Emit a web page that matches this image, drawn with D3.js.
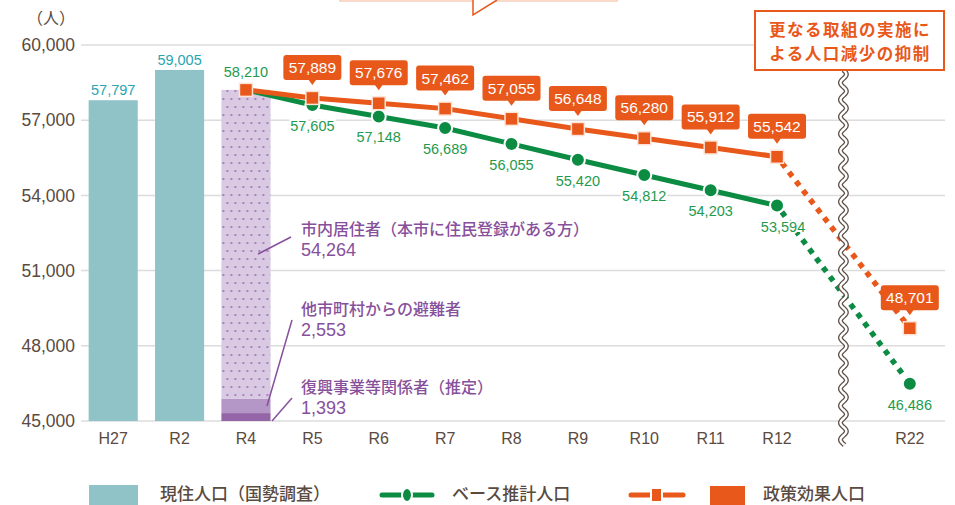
<!DOCTYPE html>
<meta charset="utf-8">
<head>
  <title>人口推計</title>
</head>
<style>
body { margin: 0; background: #fff; }
svg { display: block; }
text { font-family: "Liberation Sans", Arial, sans-serif; }
.jp { font-family: "Noto Sans CJK JP", sans-serif; }
</style>
<body>
<svg width="955" height="505"></svg>
<script src="https://cdnjs.cloudflare.com/ajax/libs/d3/7.8.5/d3.min.js"></script>
<script>
// categories on the x axis ("break" is the empty slot for the wavy line)
var slots = ["H27", "R2", "R4", "R5", "R6", "R7", "R8", "R9", "R10", "R11", "R12", "break", "R22"];

// census bars
var censusCats = ["H27", "R2"];
var censusVals = [57797, 59005];

// R4 breakdown (bottom to top)
var partNames = ["復興事業等関係者（推定）", "他市町村からの避難者", "市内居住者（本市に住民登録がある方）"];
var partVals = [1393, 2553, 54264];
var partTotal = 58210;

// projections
var projCats = ["R4", "R5", "R6", "R7", "R8", "R9", "R10", "R11", "R12", "R22"];
var baseVals = [58210, 57605, 57148, 56689, 56055, 55420, 54812, 54203, 53594, 46486];
var policyVals = [58210, 57889, 57676, 57462, 57055, 56648, 56280, 55912, 55542, 48701];

var yTicks = [45000, 48000, 51000, 54000, 57000, 60000];

var teal = "#90c3c8", green = "#0c8c43", greenTxt = "#1f9a4e", orange = "#e8581a",
    purple = "#87509b", brown = "#5a4a3f", grid = "#dcdcdc";

var svg = d3.select("svg");

var x = d3.scaleBand().domain(slots).range([80, 943]).paddingInner(0.26).paddingOuter(0.13);
var y = d3.scaleLinear().domain([45000, 60000]).range([421, 45]);
var cx = function(c) { return x(c) + x.bandwidth() / 2; };
var fmt = d3.format(",");

// top callout (cut off)
svg.append("rect").attr("x", 340).attr("y", -30).attr("width", 277).attr("height", 31)
  .attr("fill", "#fff").attr("stroke", "#f8cdb9").attr("stroke-width", 1.5);
svg.append("path").attr("d", "M473,0 L473,15 L497,0")
  .attr("fill", "#fff").attr("stroke", orange).attr("stroke-width", 1.5);

// grid
svg.append("g").selectAll("line").data(yTicks).enter().append("line")
  .attr("x1", 81).attr("x2", 945)
  .attr("y1", function(d) { return y(d); }).attr("y2", function(d) { return y(d); })
  .attr("stroke", grid).attr("stroke-width", 1.5);

// y axis labels
var yAxis = d3.axisLeft(y).tickValues(yTicks).tickFormat(fmt).tickSize(0).tickPadding(0);
var ya = svg.append("g").attr("transform", "translate(75,0)").call(yAxis);
ya.select(".domain").remove();
ya.selectAll("text").attr("fill", brown).attr("font-size", 17.5).attr("font-family", "Liberation Sans, Arial, sans-serif");
svg.append("text").attr("class", "jp").attr("x", 75).attr("y", 24).attr("text-anchor", "end")
  .attr("fill", brown).attr("font-size", 16).text("（人）");

// x axis labels
var xAxis = d3.axisBottom(x).tickSize(0).tickPadding(0)
  .tickFormat(function(d) { return d === "break" ? "" : d; });
var xa = svg.append("g").attr("transform", "translate(0,433)").call(xAxis);
xa.select(".domain").remove();
xa.selectAll("text").attr("fill", brown).attr("font-size", 16).attr("font-family", "Liberation Sans, Arial, sans-serif");

// census bars
svg.append("g").selectAll("rect").data(censusVals).enter().append("rect")
  .attr("x", function(d, i) { return x(censusCats[i]); })
  .attr("width", x.bandwidth())
  .attr("y", function(d) { return y(d); })
  .attr("height", function(d) { return y(45000) - y(d); })
  .attr("fill", teal);
svg.append("g").selectAll("text").data(censusVals).enter().append("text")
  .attr("x", function(d, i) { return cx(censusCats[i]); })
  .attr("y", function(d) { return y(d) - 5; })
  .attr("text-anchor", "middle").attr("font-size", 14.5).attr("fill", "#2aa5b3")
  .text(fmt);

// R4 stacked bar (drawn proportionally inside the visible bar)
var defs = svg.append("defs");
var pat = defs.append("pattern").attr("id", "dots").attr("patternUnits", "userSpaceOnUse")
  .attr("width", 8).attr("height", 16).attr("x", x("R4"));
pat.append("rect").attr("width", 8).attr("height", 16).attr("fill", "#d9c9e3");
pat.append("circle").attr("cx", 2).attr("cy", 3).attr("r", 1.1).attr("fill", "#9b74b3");
pat.append("circle").attr("cx", 6).attr("cy", 11).attr("r", 1.1).attr("fill", "#9b74b3");

var barH = y(45000) - y(partTotal);
var hs = d3.scaleLinear().domain([0, partTotal]).range([0, barH]);
var partFill = ["#9566a7", "#b497c6", "url(#dots)"];
var acc = 0;
partVals.forEach(function(v, i) {
  var h = hs(v);
  svg.append("rect").attr("x", x("R4")).attr("width", x.bandwidth())
    .attr("y", y(45000) - hs(acc) - h).attr("height", h).attr("fill", partFill[i]);
  acc += v;
});

// breakdown annotations
var notes = [
  { i: 2, ty: 235, line: [258, 254, 291, 237] },
  { i: 1, ty: 315, line: [267, 406, 292, 320] },
  { i: 0, ty: 393, line: [272, 421, 292, 398] }
];
notes.forEach(function(n) {
  svg.append("line").attr("x1", n.line[0]).attr("y1", n.line[1]).attr("x2", n.line[2]).attr("y2", n.line[3])
    .attr("stroke", purple).attr("stroke-width", 1.5);
  svg.append("text").attr("class", "jp").attr("x", 301).attr("y", n.ty)
    .attr("fill", purple).attr("font-size", 16).attr("font-weight", 500).text(partNames[n.i]);
  svg.append("text").attr("x", 301).attr("y", n.ty + 21)
    .attr("fill", purple).attr("font-size", 18).attr("font-weight", 500).text(fmt(partVals[n.i]));
});

// lines
var pts = function(vals) { return vals.map(function(v, i) { return [cx(projCats[i]), y(v)]; }); };
var basePts = pts(baseVals), polPts = pts(policyVals);
var line = d3.line();
var n = projCats.length;

function drawSeries(p, color) {
  svg.append("path").attr("d", line(p.slice(0, n - 1))).attr("fill", "none")
    .attr("stroke", color).attr("stroke-width", 5);
  svg.append("path").attr("d", line(p.slice(n - 2))).attr("fill", "none")
    .attr("stroke", color).attr("stroke-width", 5.5).attr("stroke-dasharray", "5.5,6")
    .attr("stroke-dashoffset", -8);
}
drawSeries(basePts, green);
drawSeries(polPts, orange);

// green markers + labels
svg.append("g").selectAll("circle").data(basePts.slice(1)).enter().append("circle")
  .attr("cx", function(d) { return d[0]; }).attr("cy", function(d) { return d[1]; })
  .attr("r", 7).attr("fill", green).attr("stroke", "#fff").attr("stroke-width", 2);
svg.append("g").selectAll("text").data(baseVals).enter().append("text")
  .attr("x", function(d, i) { return basePts[i][0] + (i === 8 ? 6 : 0); })
  .attr("y", function(d, i) { return i === 0 ? basePts[i][1] - 13 : basePts[i][1] + 26; })
  .attr("text-anchor", "middle").attr("font-size", 14.5).attr("fill", greenTxt)
  .attr("stroke", "#fff").attr("stroke-width", 4).attr("paint-order", "stroke")
  .text(fmt);

// orange markers
svg.append("g").selectAll("rect").data(polPts).enter().append("rect")
  .attr("x", function(d) { return d[0] - 6.5; }).attr("y", function(d) { return d[1] - 6.5; })
  .attr("width", 13).attr("height", 13).attr("fill", orange).attr("stroke", "#fde3d6").attr("stroke-width", 1.5);

// orange callout labels
var tags = svg.append("g").selectAll("g").data(policyVals.slice(1)).enter().append("g")
  .attr("transform", function(d, i) { var p = polPts[i + 1]; return "translate(" + p[0] + "," + (p[1] - 12) + ")"; });
tags.append("rect").attr("x", -29).attr("y", -31).attr("width", 58).attr("height", 25).attr("rx", 3)
  .attr("fill", orange);
tags.append("path").attr("d", "M-4,-6.5 L0,-1 L4,-6.5Z").attr("fill", orange);
tags.append("text").attr("y", -13).attr("text-anchor", "middle").attr("fill", "#fff")
  .attr("font-size", 15.5).text(fmt);

// wavy break
var bx = (x("R12") + x("R22") + x.bandwidth()) / 2;
var wave = d3.range(70, 446, 1).map(function(yy) { return [bx + 3 * Math.sin((yy - 70) / 17 * 2 * Math.PI), yy]; });
svg.append("path").attr("d", d3.line().curve(d3.curveBasis)(wave)).attr("fill", "none")
  .attr("stroke", "#5e4f47").attr("stroke-width", 5);
svg.append("path").attr("d", d3.line().curve(d3.curveBasis)(wave)).attr("fill", "none")
  .attr("stroke", "#fff").attr("stroke-width", 2.4);

// right callout
svg.append("rect").attr("x", 755).attr("y", 11).attr("width", 189).attr("height", 59)
  .attr("fill", "#fff").attr("stroke", orange).attr("stroke-width", 2);
svg.append("text").attr("class", "jp").attr("x", 850).attr("y", 36).attr("text-anchor", "middle")
  .attr("fill", orange).attr("font-size", 16.5).attr("font-weight", 700).attr("letter-spacing", 1.5)
  .text("更なる取組の実施に");
svg.append("text").attr("class", "jp").attr("x", 850).attr("y", 60).attr("text-anchor", "middle")
  .attr("fill", orange).attr("font-size", 16.5).attr("font-weight", 700).attr("letter-spacing", 1.5)
  .text("よる人口減少の抑制");

// legend
var lg = svg.append("g");
lg.append("rect").attr("x", 89).attr("y", 485).attr("width", 49).attr("height", 22).attr("fill", teal);
lg.append("text").attr("class", "jp").attr("x", 160).attr("y", 500).attr("fill", brown)
  .attr("font-size", 17).attr("font-weight", 500).text("現住人口（国勢調査）");
lg.append("line").attr("x1", 382).attr("x2", 432).attr("y1", 495).attr("y2", 495)
  .attr("stroke", green).attr("stroke-width", 5).attr("stroke-linecap", "round");
lg.append("ellipse").attr("cx", 407).attr("cy", 495).attr("rx", 5).attr("ry", 7)
  .attr("fill", green).attr("stroke", "#fff").attr("stroke-width", 2);
lg.append("text").attr("class", "jp").attr("x", 452).attr("y", 500).attr("fill", brown)
  .attr("font-size", 17).attr("font-weight", 500).text("ベース推計人口");
lg.append("line").attr("x1", 631).attr("x2", 683).attr("y1", 495).attr("y2", 495)
  .attr("stroke", orange).attr("stroke-width", 5).attr("stroke-linecap", "round");
lg.append("rect").attr("x", 651).attr("y", 488).attr("width", 11).attr("height", 14)
  .attr("fill", orange).attr("stroke", "#fff").attr("stroke-width", 2);
lg.append("rect").attr("x", 710).attr("y", 486).attr("width", 35).attr("height", 22).attr("fill", orange);
lg.append("text").attr("class", "jp").attr("x", 763).attr("y", 500).attr("fill", brown)
  .attr("font-size", 17).attr("font-weight", 500).text("政策効果人口");
</script>
</body>
</html>
